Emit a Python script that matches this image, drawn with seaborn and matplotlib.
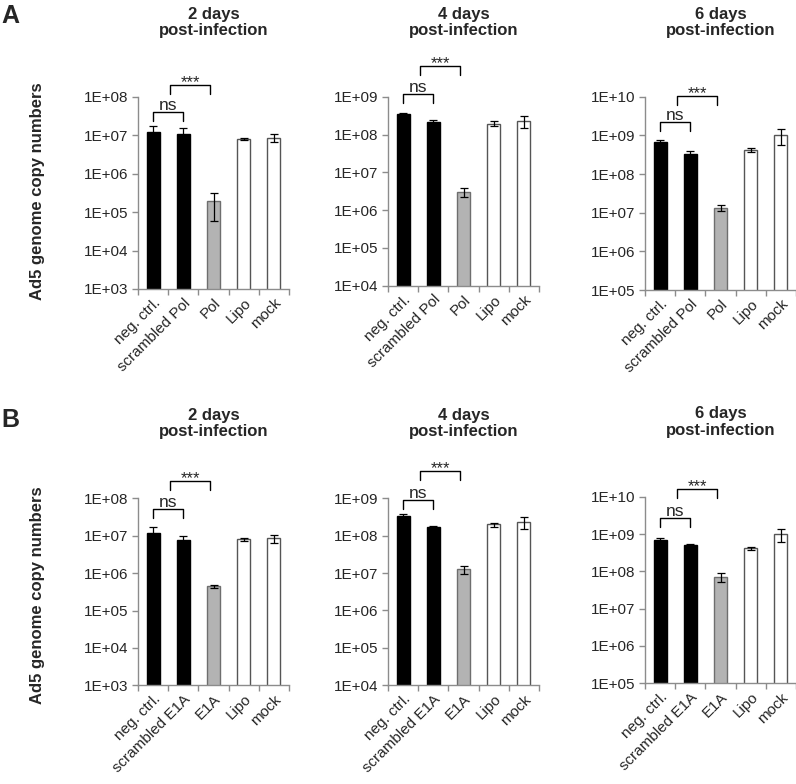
"""
Copias del genoma de Ad5 tras la infección (paneles A y B)
"""
import numpy as np
import pandas as pd
import seaborn as sns
import matplotlib.pyplot as plt
from matplotlib.ticker import FixedLocator, FuncFormatter, NullLocator

# --- datos ---
labels_pol = ['neg. ctrl.', 'scrambled Pol', 'Pol', 'Lipo', 'mock']
labels_e1a = ['neg. ctrl.', 'scrambled E1A', 'E1A', 'Lipo', 'mock']
titles = ['2 days\npost-infection', '4 days\npost-infection', '6 days\npost-infection']
y_lo_exp = [3, 4, 5]
y_hi_exp = [8, 9, 10]

# panel A (Pol)
a_mean_2d = [1.2e7, 1.1e7, 1.9e5, 8.0e6, 8.5e6]
a_sd_2d = [5.0e6, 4.0e6, 1.3e5, 6.0e5, 2.0e6]
a_mean_4d = [3.4e8, 2.1e8, 3.1e6, 1.95e8, 2.3e8]
a_sd_4d = [3.0e7, 3.0e7, 8.5e5, 3.0e7, 8.0e7]
a_mean_6d = [6.9e8, 3.2e8, 1.35e7, 4.2e8, 1.0e9]
a_sd_6d = [9.0e7, 8.0e7, 2.2e6, 5.0e7, 4.2e8]

# panel B (E1A)
b_mean_2d = [1.2e7, 7.6e6, 4.4e5, 8.0e6, 8.5e6]
b_sd_2d = [5.0e6, 2.2e6, 5.0e4, 6.0e5, 2.0e6]
b_mean_4d = [3.4e8, 1.7e8, 1.25e7, 2.0e8, 2.3e8]
b_sd_4d = [4.0e7, 7.0e6, 2.8e6, 2.5e7, 8.0e7]
b_mean_6d = [6.9e8, 5.0e8, 7.2e7, 4.2e8, 1.0e9]
b_sd_6d = [9.0e7, 4.0e7, 2.0e7, 4.0e7, 4.0e8]

bar_colors = ['black', 'black', '#b3b3b3', 'white', 'white']
edge_colors = ['black', 'black', '#6e6e6e', '#555555', '#555555']

# --- layout en pixeles: (izquierda, arriba, abajo) de cada eje ---
W, H = 796, 784
ANCHO = 151
pos_a = [(138, 96.7, 289), (388, 96.7, 285.7), (645, 96.7, 290)]
pos_b = [(138, 498.3, 685.3), (388, 498.3, 685.3), (645, 496.7, 683.3)]
# alturas (px sobre el borde superior) de los corchetes "ns" y "***"
ns_a, star_a = [-15, 2.4, -25], [11.7, 30.7, 1]
ns_b, star_b = [-11, -2, -21.6], [17.6, 27.3, 7.4]
GRIS = '#8c8c8c'

sns.set_style('white')
plt.rcParams['font.family'] = ['Liberation Sans', 'DejaVu Sans']


def corchete(ax, x0, x1, y_px, texto, eje_px, tam=12, sep=2.0):
    """Dibuja un corchete de significancia sobre las barras"""
    trans = ax.get_xaxis_transform()
    y = 1 + y_px / eje_px
    y_pie = 1 + (y_px - 9) / eje_px
    ax.plot([x0, x0, x1, x1], [y_pie, y, y, y_pie], color='black', lw=1.0,
            transform=trans, clip_on=False)
    ax.text((x0 + x1) / 2, y + sep / eje_px, texto, transform=trans,
            ha='center', va='baseline', fontsize=tam, clip_on=False)


def grafico(fig, pos, labels, media, sd, lo, hi, titulo, ns_px, star_px):
    """Grafica un panel de barras en escala log con barras de error"""
    izq, arriba, abajo = pos
    alto = abajo - arriba
    ax = fig.add_axes([izq / W, 1 - abajo / H, ANCHO / W, alto / H])

    df = pd.DataFrame({'grupo': labels, 'valor': media})
    sns.barplot(data=df, x='grupo', y='valor', hue='grupo', palette=bar_colors,
                saturation=1, legend=False, width=0.43, errorbar=None,
                log_scale=True, linewidth=1, ax=ax)
    for barra, ec in zip(ax.patches, edge_colors):
        barra.set_edgecolor(ec)

    ax.errorbar(np.arange(len(labels)), media, yerr=sd, fmt='none',
                ecolor='black', elinewidth=0.9, capsize=3, capthick=0.9)

    ax.set_yscale('log')
    ax.set_ylim(10.0 ** lo, 10.0 ** hi)
    ax.set_xlim(-0.5, len(labels) - 0.5)
    ax.yaxis.set_major_locator(FixedLocator([10.0 ** e for e in range(lo, hi + 1)]))
    ax.yaxis.set_minor_locator(NullLocator())
    ax.yaxis.set_major_formatter(FuncFormatter(
        lambda v, p: f"1E+{int(round(np.log10(v))):02d}"))
    ax.xaxis.set_minor_locator(FixedLocator(np.arange(-0.5, len(labels), 1.0)))

    ax.tick_params(axis='y', which='major', length=4, width=1, color=GRIS,
                   labelsize=11, left=True, pad=3)
    ax.tick_params(axis='x', which='major', length=0, labelsize=11, pad=5)
    ax.tick_params(axis='x', which='minor', length=4, width=1, color=GRIS,
                   bottom=True)
    ax.set_xticks(range(len(labels)))
    ax.set_xticklabels(labels, rotation=45, ha='right', rotation_mode='anchor')

    sns.despine(ax=ax)
    for lado in ['left', 'bottom']:
        ax.spines[lado].set_color(GRIS)
        ax.spines[lado].set_linewidth(1)
    ax.set_xlabel('')
    ax.set_ylabel('')

    corchete(ax, 0, 1, ns_px, 'ns', alto, tam=12.5, sep=2.0)
    corchete(ax, 0.55, 1.9, star_px, '***', alto, tam=12, sep=-2.0)
    ax.text(0.5, 1 + 59 / alto, titulo, transform=ax.transAxes, ha='center',
            va='bottom', fontsize=12, fontweight='bold', linespacing=1.1)
    return ax


fig = plt.figure(figsize=(W / 100, H / 100), dpi=100)

datos_a = [(a_mean_2d, a_sd_2d), (a_mean_4d, a_sd_4d), (a_mean_6d, a_sd_6d)]
datos_b = [(b_mean_2d, b_sd_2d), (b_mean_4d, b_sd_4d), (b_mean_6d, b_sd_6d)]

for i in range(3):
    grafico(fig, pos_a[i], labels_pol, datos_a[i][0], datos_a[i][1],
            y_lo_exp[i], y_hi_exp[i], titles[i], ns_a[i], star_a[i])
    grafico(fig, pos_b[i], labels_e1a, datos_b[i][0], datos_b[i][1],
            y_lo_exp[i], y_hi_exp[i], titles[i], ns_b[i], star_b[i])

# etiquetas de eje y letras de panel
for yc in [191, 595]:
    fig.text(38 / W, 1 - yc / H, 'Ad5 genome copy numbers', rotation=90,
             ha='center', va='center', fontsize=12, fontweight='bold')
fig.text(1 / W, 1 - 4 / H, 'A', ha='left', va='top', fontsize=18, fontweight='bold')
fig.text(1 / W, 1 - 408 / H, 'B', ha='left', va='top', fontsize=18, fontweight='bold')

fig.savefig('out.png', dpi=100)
